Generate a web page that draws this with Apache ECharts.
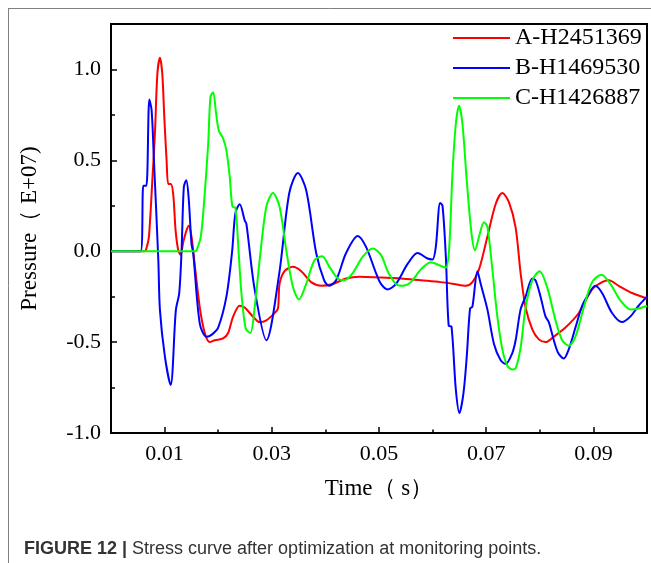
<!DOCTYPE html>
<html><head><meta charset="utf-8">
<script src="https://cdn.jsdelivr.net/npm/echarts@6/dist/echarts.min.js"></script>
<style>html,body{margin:0;padding:0;background:#fff}#c{width:651px;height:563px}</style>
</head><body><div id="c"></div>
<script>
// ---- data (time in s, pressure in E+07) ----
const seriesNames = ['A-H2451369', 'B-H1469530', 'C-H1426887'];
const xTickLabels = [0.01, 0.03, 0.05, 0.07, 0.09];
const xMinorTicks = [0.02, 0.04, 0.06, 0.08];
const yTickLabels = [-1.0, -0.5, 0.0, 0.5, 1.0];
const yMinorTicks = [-0.75, -0.25, 0.25, 0.75];

const timeA = [0,0.00628,0.00665,0.00708,0.00771,0.00820,0.00864,0.00913,0.00957,0.00994,0.01037,0.01069,0.01117,0.01162,0.01205,0.01255,0.01298,0.01348,0.01409,0.01452,0.01502,0.01553,0.01657,0.01750,0.01843,0.01936,0.02092,0.02185,0.02278,0.02401,0.02494,0.02650,0.02773,0.02898,0.03052,0.03115,0.03145,0.03238,0.03394,0.03549,0.03735,0.03921,0.04139,0.04386,0.04634,0.05037,0.05409,0.05781,0.06153,0.06401,0.06619,0.06743,0.06866,0.07022,0.07177,0.07301,0.07424,0.07549,0.07642,0.07735,0.07860,0.07982,0.08107,0.08261,0.08479,0.08727,0.08976,0.09162,0.09285,0.09471,0.09720,0.1];
const valueA = [0,0,0.02,0.08,0.39,0.65,0.97,1.064,0.976,0.74,0.5,0.37,0.37,0.31,0.115,0.005,-0.02,0.05,0.115,0.14,0.08,-0.05,-0.31,-0.45,-0.50,-0.49,-0.48,-0.45,-0.36,-0.30,-0.31,-0.36,-0.39,-0.38,-0.34,-0.315,-0.18,-0.11,-0.086,-0.11,-0.17,-0.19,-0.18,-0.15,-0.14,-0.145,-0.15,-0.16,-0.17,-0.18,-0.19,-0.17,-0.10,0.08,0.26,0.32,0.27,0.13,-0.12,-0.31,-0.43,-0.485,-0.50,-0.47,-0.42,-0.34,-0.21,-0.17,-0.16,-0.19,-0.23,-0.26];

const timeB = [0,0.00553,0.00604,0.00660,0.00715,0.00758,0.00801,0.00883,0.00913,0.01006,0.01112,0.01210,0.01273,0.01316,0.01359,0.01404,0.01447,0.01502,0.01534,0.01657,0.01781,0.01874,0.01999,0.02153,0.02260,0.02321,0.02401,0.02494,0.02526,0.02680,0.02898,0.03140,0.03326,0.03487,0.03642,0.03828,0.03977,0.04070,0.04200,0.04386,0.04604,0.04758,0.04944,0.05037,0.05162,0.05316,0.05534,0.05720,0.05906,0.05999,0.06060,0.06140,0.06185,0.06247,0.06300,0.06353,0.06433,0.06501,0.06576,0.06637,0.06699,0.06743,0.06836,0.06898,0.07022,0.07145,0.07270,0.07363,0.07487,0.07549,0.07642,0.07735,0.07860,0.07921,0.08014,0.08107,0.08168,0.08261,0.08343,0.08447,0.08540,0.08665,0.08790,0.08883,0.09037,0.09162,0.09348,0.09534,0.09688,0.09843,0.1];
const valueB = [0,0,0.36,0.36,0.835,0.775,0.5,-0.05,-0.324,-0.58,-0.736,-0.324,-0.23,0.0,0.353,0.39,0.30,0.04,-0.01,-0.40,-0.47,-0.46,-0.42,-0.25,0.0,0.21,0.258,0.17,0.15,-0.21,-0.49,-0.12,0.32,0.43,0.335,-0.01,-0.16,-0.19,-0.16,-0.01,0.084,0.024,-0.12,-0.18,-0.21,-0.18,-0.07,-0.01,-0.04,-0.045,0.024,0.265,0.25,-0.03,-0.41,-0.415,-0.76,-0.89,-0.78,-0.58,-0.315,-0.305,-0.11,-0.18,-0.32,-0.51,-0.60,-0.62,-0.56,-0.49,-0.32,-0.25,-0.15,-0.16,-0.25,-0.36,-0.39,-0.49,-0.56,-0.59,-0.54,-0.42,-0.30,-0.25,-0.19,-0.23,-0.34,-0.39,-0.36,-0.30,-0.25];

const timeC = [0,0.01564,0.01595,0.01675,0.01739,0.01813,0.01856,0.01906,0.01954,0.02010,0.02092,0.02153,0.02215,0.02265,0.02321,0.02382,0.02433,0.02513,0.02600,0.02680,0.02773,0.02898,0.03022,0.03145,0.03270,0.03394,0.03506,0.03642,0.03796,0.03940,0.04075,0.04232,0.04354,0.04511,0.04697,0.04883,0.05037,0.05162,0.05316,0.05441,0.05595,0.05781,0.05967,0.06122,0.06247,0.06308,0.06371,0.06433,0.06494,0.06557,0.06637,0.06725,0.06792,0.06866,0.06959,0.07022,0.07115,0.07208,0.07301,0.07394,0.07487,0.07549,0.07642,0.07735,0.07860,0.07995,0.08139,0.08293,0.08418,0.08540,0.08665,0.08820,0.08976,0.09149,0.09316,0.09502,0.09688,0.09843,0.1];
const valueC = [0,0,0.005,0.08,0.28,0.59,0.85,0.875,0.775,0.665,0.62,0.555,0.41,0.245,0.24,-0.01,-0.23,-0.425,-0.45,-0.31,-0.05,0.245,0.32,0.245,0.005,-0.196,-0.265,-0.18,-0.05,-0.028,-0.086,-0.15,-0.16,-0.12,-0.03,0.015,-0.02,-0.11,-0.18,-0.19,-0.17,-0.10,-0.06,-0.077,-0.09,0.01,0.43,0.70,0.80,0.70,0.39,0.10,0.005,0.08,0.16,0.135,-0.10,-0.36,-0.54,-0.63,-0.65,-0.645,-0.53,-0.31,-0.16,-0.11,-0.20,-0.38,-0.49,-0.52,-0.47,-0.31,-0.17,-0.13,-0.18,-0.27,-0.32,-0.315,-0.30];

const colors = ['#ff0000', '#0000ff', '#00ff00'];
const zip = (t, v) => t.map((x, i) => [x, v[i]]);
const allData = [zip(timeA, valueA), zip(timeB, valueB), zip(timeC, valueC)];

const SERIF = "'Liberation Serif','Times New Roman',serif";
const chart = echarts.init(document.getElementById('c'), null, {renderer: 'canvas'});
chart.setOption({
  animation: false,
  backgroundColor: '#fff',
  grid: {left: 111, top: 24, right: 4, bottom: 130, show: true, borderColor: '#000', borderWidth: 2, backgroundColor: 'transparent'},
  legend: {
    show: true,
    orient: 'vertical', left: 453, top: 26, padding: 0,
    icon: 'rect', itemWidth: 57, itemHeight: 2, itemGap: 6,
    textStyle: {fontFamily: SERIF, fontSize: 24, color: '#000', lineHeight: 24},
    data: seriesNames
  },
  xAxis: [{
    type: 'value', min: 0, max: 0.1, interval: 0.01,
    name: 'Time（ s）', nameLocation: 'middle', nameGap: 44,
    nameTextStyle: {fontFamily: SERIF, fontSize: 23, color: '#000'},
    axisLine: {show: true, onZero: false, lineStyle: {color: '#000', width: 2}},
    axisTick: {show: true, inside: true, length: 6, customValues: xTickLabels, lineStyle: {color: '#000', width: 1.5}},
    axisLabel: {customValues: xTickLabels, formatter: v => v.toFixed(2), fontFamily: SERIF, fontSize: 22, color: '#000', margin: 10},
    splitLine: {show: false}
  }, {
    type: 'value', min: 0, max: 0.1, interval: 0.01, position: 'bottom',
    axisLine: {show: false, onZero: false},
    axisTick: {show: true, inside: true, length: 3.5, customValues: xMinorTicks, lineStyle: {color: '#000', width: 1.5}},
    axisLabel: {show: false}, splitLine: {show: false}
  }],
  yAxis: [{
    type: 'value', min: -1.0, max: 1.25, interval: 0.25,
    name: 'Pressure（ E+07)', nameLocation: 'middle', nameGap: 70,
    nameTextStyle: {fontFamily: SERIF, fontSize: 23, color: '#000'},
    axisLine: {show: true, onZero: false, lineStyle: {color: '#000', width: 2}},
    axisTick: {show: true, inside: true, length: 6, customValues: yTickLabels, lineStyle: {color: '#000', width: 1.5}},
    axisLabel: {customValues: yTickLabels, formatter: v => v.toFixed(1), fontFamily: SERIF, fontSize: 22, color: '#000', margin: 10},
    splitLine: {show: false}
  }, {
    type: 'value', min: -1.0, max: 1.25, interval: 0.25, position: 'left',
    axisLine: {show: false, onZero: false},
    axisTick: {show: true, inside: true, length: 4, customValues: yMinorTicks, lineStyle: {color: '#000', width: 1.5}},
    axisLabel: {show: false}, splitLine: {show: false}
  }],
  series: seriesNames.map((n, i) => ({
    name: n, type: 'line', data: allData[i], xAxisIndex: 0, yAxisIndex: 0,
    symbol: 'none', smooth: 0.3, clip: true,
    lineStyle: {color: colors[i], width: 2}, itemStyle: {color: colors[i]}
  })),
  graphic: [
    {type: 'line', shape: {x1: 8, y1: 8.5, x2: 651, y2: 8.5}, style: {stroke: '#808080', lineWidth: 1}},
    {type: 'line', shape: {x1: 8.5, y1: 8, x2: 8.5, y2: 563}, style: {stroke: '#808080', lineWidth: 1}},
    {type: 'text', left: 24, top: 540, style: {
      text: '{b|FIGURE 12 |} {r|Stress curve after optimization at monitoring points.}',
      fontFamily: "'Liberation Sans',Arial,sans-serif", fontSize: 18, fill: '#333',
      rich: {
        b: {fontWeight: 'bold', fontFamily: "'Liberation Sans',Arial,sans-serif", fontSize: 18, color: '#1a1a1a'},
        r: {fontFamily: "'Liberation Sans',Arial,sans-serif", fontSize: 18, color: '#333'}
      }
    }}
  ]
});
</script></body></html>
